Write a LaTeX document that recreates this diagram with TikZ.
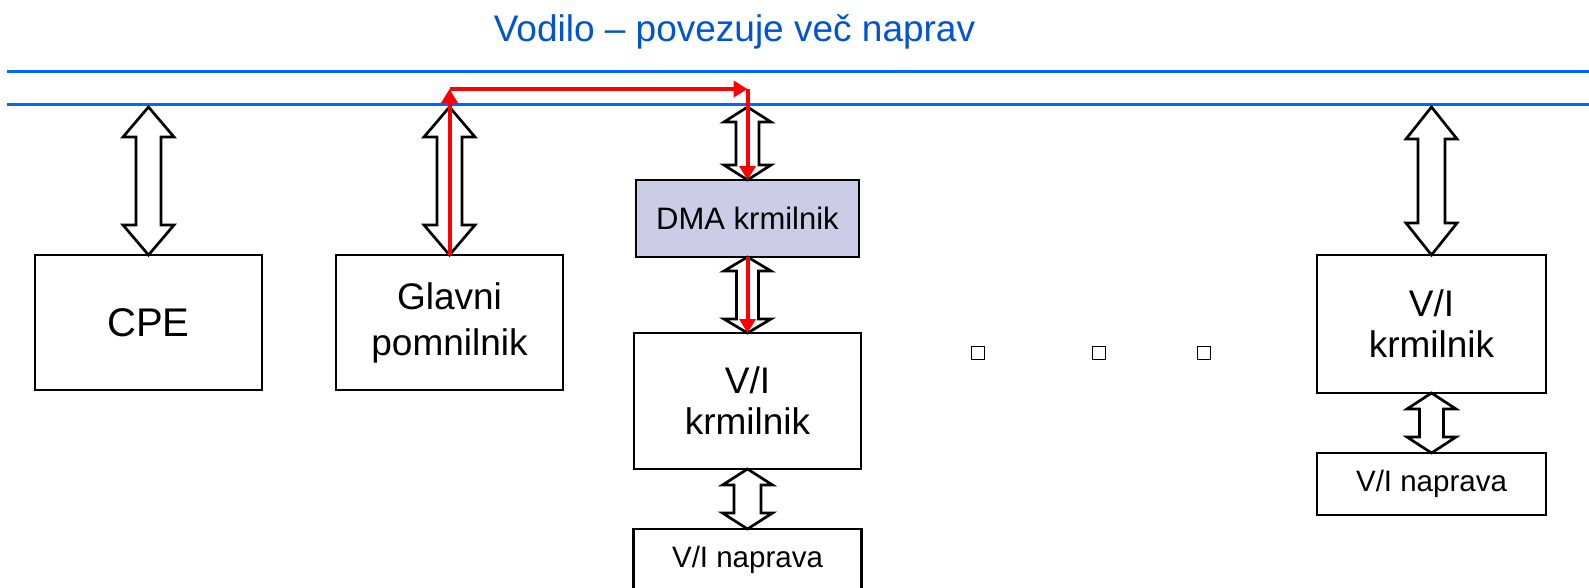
\documentclass[tikz,border=0pt]{standalone}
\usepackage{fontspec}
\setmainfont{Liberation Sans}
\usetikzlibrary{positioning, arrows.meta, calc}

\definecolor{busblue}{RGB}{0,102,255}
\definecolor{titleblue}{RGB}{0,84,210}
\definecolor{dmafill}{RGB}{204,204,230}

% white double block arrow: top, bottom, half head width, half shaft width, head length
\newcommand{\dblarrow}[5]{%
  \draw[blockarrow] (#1) -- ($(#1)+(-#3,#5)$) -- ($(#1)+(-#4,#5)$) -- ($(#2)+(-#4,-#5)$)
    -- ($(#2)+(-#3,-#5)$) -- (#2) -- ($(#2)+(#3,-#5)$) -- ($(#2)+(#4,-#5)$)
    -- ($(#1)+(#4,#5)$) -- ($(#1)+(#3,#5)$) -- cycle;}

\begin{document}
\begin{tikzpicture}[x=1pt, y=-1pt]
                \tikzstyle{box} = [draw, line width=2.7pt, align=center, inner sep=0pt, outer sep=0pt]
                \tikzstyle{blockarrow} = [draw, fill=white, line width=2.7pt, line join=miter]
                \tikzstyle{bus} = [busblue, line width=3pt]
                \tikzstyle{redarrow} = [red, line width=4pt, -{Triangle[length=14pt, width=16pt]}]
                \tikzstyle{dot} = [draw, line width=1.5pt, minimum size=13pt, inner sep=0pt]

                \useasboundingbox (0,0) rectangle (1589,587);
                \clip (0,0) rectangle (1589,587);

                % Title and bus
                \node[titleblue, anchor=base, font=\fontsize{37}{44}\selectfont] (title) at (734.5,41) {Vodilo -- povezuje več naprav};
                \coordinate (busTl) at (7,71);
                \coordinate (busTr) at (1589,71);
                \coordinate (busBl) at (7,104);
                \coordinate (busBr) at (1589,104);
                \draw[bus] (busTl) -- (busTr);
                \draw[bus] (busBl) -- (busBr);

                % Boxes
                \node[box, minimum width=227pt, minimum height=135pt, font=\fontsize{40}{48}\selectfont] (cpe) at (148.5,322.5) {CPE};
                \node[box, minimum width=227pt, minimum height=135pt, font=\fontsize{37}{46}\selectfont] (glavni) [right=74pt of cpe] {Glavni\\pomnilnik};
                \node[box, fill=dmafill, minimum width=223pt, minimum height=77pt, font=\fontsize{31}{38}\selectfont] (dma) at (747.5,218.5) {DMA krmilnik};
                \node[box, minimum width=227pt, minimum height=136pt, font=\fontsize{37}{41}\selectfont] (vik) [below=76pt of dma] {V/I\\krmilnik};
                \node[box, minimum width=228pt, minimum height=62pt, font=\fontsize{29.5}{36}\selectfont] (vin) [below=60pt of vik] {V/I naprava};
                \node[box, minimum width=229pt, minimum height=138pt, font=\fontsize{37}{41}\selectfont] (rvik) at (1431.5,324) {V/I\\krmilnik};
                \node[box, minimum width=229pt, minimum height=62pt, font=\fontsize{29.5}{36}\selectfont] (rvin) [below=60pt of rvik] {V/I naprava};

                % Small squares
                \node[dot] (sq1) at (978,353) {};
                \node[dot] (sq2) at (1099,353) {};
                \node[dot] (sq3) at (1204,353) {};

                % Block arrows
                \coordinate (cpeTop) at ($(cpe.north |- busBl)+(0,3)$);
                \coordinate (glavniTop) at ($(glavni.north |- busBl)+(0,3)$);
                \coordinate (dmaTop) at ($(dma.north |- busBl)+(0,3)$);
                \coordinate (rvikTop) at ($(rvik.north |- busBl)+(0,3)$);
                \dblarrow{cpeTop}{cpe.north}{25.5}{12.5}{30}
                \dblarrow{glavniTop}{glavni.north}{25.5}{12.5}{30}
                \dblarrow{dmaTop}{dma.north}{23.5}{11.5}{15}
                \dblarrow{dma.south}{vik.north}{23.5}{11}{14}
                \dblarrow{vik.south}{vin.north}{25}{13.5}{16}
                \dblarrow{rvikTop}{rvik.north}{25.5}{13.5}{32}
                \dblarrow{rvik.south}{rvin.north}{24.5}{12}{16}

                % DMA transfer path
                \coordinate (redrow) at (0,89);
                \coordinate (redA) at (glavni.north |- redrow);
                \coordinate (redB) at (dma.north |- redrow);
                \draw[redarrow] (glavni.north) -- (redA);
                \draw[redarrow] (redA) -- (redB);
                \draw[redarrow] (redB) -- (dma.north);
                \draw[redarrow] (dma.south) -- (vik.north);
            \end{tikzpicture}
\end{document}
